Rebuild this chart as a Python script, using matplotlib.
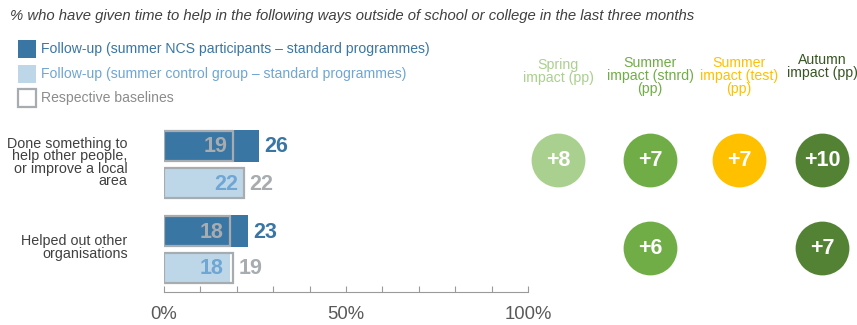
import matplotlib
matplotlib.use("Agg")
import matplotlib.pyplot as plt
from matplotlib.transforms import blended_transform_factory

plt.rcParams['font.family'] = ['Liberation Sans', 'DejaVu Sans']

# ---- data ----
categories = ["Done something to\nhelp other people,\nor improve a local\narea",
              "Helped out other\norganisations"]
ncs_followup = [26, 23]
ncs_baseline = [19, 18]
control_followup = [22, 18]
control_baseline = [22, 19]

impact_headers = ["Spring\nimpact (pp)", "Summer\nimpact (stnrd)\n(pp)",
                  "Summer\nimpact (test)\n(pp)", "Autumn\nimpact (pp)"]
impact_values = [[8, 7, 7, 10],
                 [None, 6, None, 7]]

title = "% who have given time to help in the following ways outside of school or college in the last three months"
legend_labels = ["Follow-up (summer NCS participants \u2013 standard programmes)",
                 "Follow-up (summer control group \u2013 standard programmes)",
                 "Respective baselines"]
tick_values = [0, 50, 100]

# ---- styling ----
DARK_BLUE = "#3A76A4"
LIGHT_BLUE = "#BDD7E8"
LIGHT_BLUE_TXT = "#6FA6D3"
GREY = "#A7ACB1"
TEXT = "#404040"
impact_colors = ["#A9D08E", "#70AD47", "#FFC000", "#548235"]
header_colors = ["#A9D08E", "#70AD47", "#FFC000", "#375623"]

W, H = 857, 325
fig = plt.figure(figsize=(W / 100, H / 100), dpi=100)

def fx(px):
    return px / W

def fy(py):
    return 1 - py / H

# bar axes (vertical units follow figure pixels, top-down)
y_top, y_bot = 120, 292
ax = fig.add_axes([fx(164), fy(y_bot), fx(528) - fx(164), fy(y_top) - fy(y_bot)])
ax.set_xlim(0, 100)
ax.set_ylim(y_bot, y_top)

bar_h = 32
group_start = [130, 215]
for i in range(len(categories)):
    y_ncs = group_start[i] + bar_h / 2
    y_ctl = y_ncs + bar_h + 5
    ax.barh(y_ncs, ncs_followup[i], height=bar_h, color=DARK_BLUE, zorder=2)
    ax.barh(y_ctl, control_followup[i], height=bar_h, color=LIGHT_BLUE, zorder=2)
    ax.barh(y_ncs, ncs_baseline[i], height=bar_h - 2, fill=False,
            edgecolor=GREY, linewidth=1.6, zorder=3)
    ax.barh(y_ctl, control_baseline[i], height=bar_h - 2, fill=False,
            edgecolor=GREY, linewidth=1.6, zorder=3)

    # NCS row: baseline inside, follow-up outside
    ax.text(ncs_baseline[i] - 1.6, y_ncs + 1, str(ncs_baseline[i]), ha="right", va="center",
            color=GREY, fontsize=15.5, fontweight="bold", zorder=4)
    ax.text(max(ncs_followup[i], ncs_baseline[i]) + 1.5, y_ncs + 1, str(ncs_followup[i]),
            ha="left", va="center", color=DARK_BLUE, fontsize=15.5, fontweight="bold")
    # control row: follow-up inside, baseline outside
    ax.text(control_followup[i] - 1.6, y_ctl + 1, str(control_followup[i]), ha="right",
            va="center", color=LIGHT_BLUE_TXT, fontsize=15.5, fontweight="bold", zorder=4)
    ax.text(max(control_followup[i], control_baseline[i]) + 1.5, y_ctl + 1,
            str(control_baseline[i]), ha="left", va="center", color=GREY,
            fontsize=15.5, fontweight="bold")

    # category label
    gc = group_start[i] + bar_h + 2.5
    ax.text(-10, gc - 2, categories[i], ha="right", va="center", color=TEXT,
            fontsize=10.3, linespacing=0.87, clip_on=False)

for s in ["top", "right", "left"]:
    ax.spines[s].set_visible(False)
ax.spines["bottom"].set_color("#9A9A9A")
ax.set_yticks([])
ax.set_xticks(range(0, 101, 10))
ax.set_xticklabels([f"{v}%" if v in tick_values else "" for v in range(0, 101, 10)])
ax.tick_params(axis="x", colors="#9A9A9A", labelcolor="#595959", labelsize=13.3,
               length=4, direction="in", pad=10)
ax.patch.set_alpha(0)

# impact circles
cax = fig.add_axes([fx(500), fy(y_bot), fx(857) - fx(500), fy(y_top) - fy(y_bot)])
cax.set_xlim(500, 857)
cax.set_ylim(y_bot, y_top)
cax.axis("off")
col_x = [558, 650, 739, 822]
row_y = [160, 248]
for r, vals in enumerate(impact_values):
    for c, v in enumerate(vals):
        if v is None:
            continue
        cax.scatter(col_x[c], row_y[r], s=1500, color=impact_colors[c], linewidths=0,
                    zorder=2, clip_on=False)
        cax.text(col_x[c], row_y[r] + 1, f"+{v}", ha="center", va="center",
                 color="white", fontsize=15.5, fontweight="bold", zorder=3)

tr = blended_transform_factory(cax.transData, fig.transFigure)
header_top = [58, 56, 56, 53]
for c, hdr in enumerate(impact_headers):
    cax.text(col_x[c], fy(header_top[c]), hdr, transform=tr, ha="center", va="top",
             color=header_colors[c], fontsize=10.2, linespacing=0.92)

# title
fig.text(fx(10), fy(16), title, ha="left", va="center", style="italic",
         color=TEXT, fontsize=10.7)

# legend
leg_y = [49, 74, 98]
for k, lab in enumerate(legend_labels):
    if k == 0:
        fc, ec, tc = DARK_BLUE, DARK_BLUE, DARK_BLUE
    elif k == 1:
        fc, ec, tc = LIGHT_BLUE, LIGHT_BLUE, LIGHT_BLUE_TXT
    else:
        fc, ec, tc = "white", GREY, "#8C8C8C"
    rect = plt.Rectangle((fx(18), fy(leg_y[k] + 9)), fx(18), fy(0) - fy(18),
                         transform=fig.transFigure, facecolor=fc, edgecolor=ec,
                         linewidth=1.6 if k == 2 else 0)
    fig.add_artist(rect)
    fig.text(fx(41), fy(leg_y[k]), lab, ha="left", va="center", color=tc, fontsize=10.1)

fig.savefig("out.png", dpi=100)
